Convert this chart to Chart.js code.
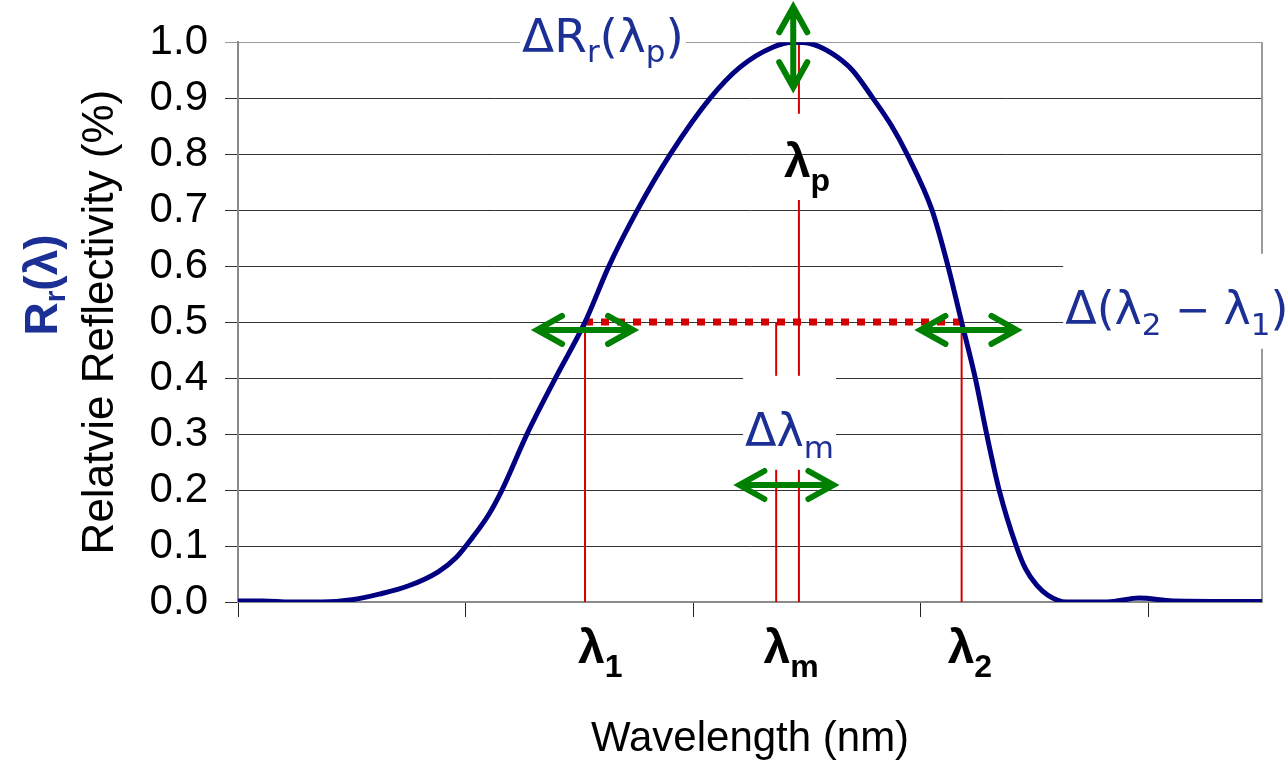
<!DOCTYPE html>
<html>
<head>
<meta charset="utf-8">
<script src="https://cdn.jsdelivr.net/npm/chart.js@4.4.0/dist/chart.umd.min.js"></script>
<style>
  html, body { margin: 0; padding: 0; background: #ffffff; }
  canvas { display: block; }
</style>
</head>
<body>
<canvas id="chart" width="1288" height="765"></canvas>
<script>
// Reflection spectrum: position along the wavelength axis and relative reflectivity
const wavelength = [
  0, 1.1, 2.3, 3.7, 5.0, 6.2, 7.5, 8.8, 9.6, 10.3, 11.0, 11.6, 12.7, 13.95,
  15.25, 16.3, 17.55, 19.0, 20.75, 22.05, 23.5, 24.4, 25.1, 26.1, 27.0, 27.9,
  28.7, 29.4, 30.5, 31.2, 31.8, 32.4, 32.9, 33.45, 34.2, 34.6, 35.1, 35.6,
  36.4, 38.2, 39.6, 41.1, 45.0
];
const reflectivity = [
  0.002, 0.002, 0.000, 0.000, 0.004, 0.014, 0.029, 0.054, 0.080, 0.115, 0.155, 0.200, 0.300, 0.400,
  0.500, 0.600, 0.700, 0.800, 0.900, 0.955, 0.991, 1.000, 0.998, 0.980, 0.950, 0.900,
  0.852, 0.800, 0.700, 0.600, 0.500, 0.400, 0.300, 0.200, 0.100, 0.060, 0.030, 0.012,
  0.000, 0.000, 0.007, 0.002, 0.001
];
const xTickValues = [0, 10, 20, 30, 40];

// Characteristic wavelengths marked on the spectrum
const lambda1 = 15.25;      // half-maximum, short side
const lambda2 = 31.8;       // half-maximum, long side
const lambdaM = 23.65;      // centre of the half-maximum band
const lambdaP = 24.65;      // peak wavelength
const peakX = 24.4;
const halfMax = 0.5;
const peakValue = 1.0;
const lambdaPGap = [0.718, 0.872];   // break in the peak marker around its label

const SANS = '"Liberation Sans", Arial, Helvetica, sans-serif';
const WIDE = '"DejaVu Sans", Verdana, sans-serif';
const BLUE = '#1b2f95';
const RED = '#d40000';
const GREEN = '#008000';

function font(size, bold, family) {
  return (bold ? 'bold ' : '') + size + 'px ' + (family || SANS);
}
function run(t, size, opts = {}) {
  return { t, font: font(size, opts.bold, opts.family), dy: opts.dy || 0 };
}
function runsWidth(ctx, runs) {
  let w = 0;
  for (const r of runs) { ctx.font = r.font; w += ctx.measureText(r.t).width; }
  return w;
}
function drawRuns(ctx, x, y, runs, color) {
  ctx.fillStyle = color;
  ctx.textAlign = 'left';
  ctx.textBaseline = 'alphabetic';
  for (const r of runs) {
    ctx.font = r.font;
    ctx.fillText(r.t, x, y + r.dy);
    x += ctx.measureText(r.t).width;
  }
}
function drawArrow(ctx, cx, cy, half, vertical) {
  ctx.save();
  ctx.translate(cx, cy);
  if (vertical) ctx.rotate(Math.PI / 2);
  ctx.strokeStyle = GREEN;
  ctx.lineWidth = 6;
  ctx.lineCap = 'round';
  ctx.lineJoin = 'miter';
  ctx.beginPath();
  ctx.moveTo(-half + 3, 0); ctx.lineTo(half - 3, 0);
  ctx.moveTo(-half + 25, -14); ctx.lineTo(-half, 0); ctx.lineTo(-half + 25, 14);
  ctx.moveTo(half - 25, -14); ctx.lineTo(half, 0); ctx.lineTo(half - 25, 14);
  ctx.stroke();
  ctx.restore();
}
const pxToUnit = (px) => (px - 238) / 22.75;

// Blue annotation texts, each on a white box
const B = { family: WIDE };
const S = (dy) => ({ family: WIDE, dy });
const blueLabels = [
  { x: pxToUnit(522), y: 0.982, boxUp: 45, boxDown: 30,
    runs: [run('\u0394', 47, B), run('R', 47, B), run('r', 31, S(10)), run('(', 47, B),
           run('\u03bb', 47, B), run('p', 31, S(10)), run(')', 47, B)] },
  { x: pxToUnit(745), y: 0.279, boxUp: 70, boxDown: 24,
    runs: [run('\u0394', 46, B), run('\u03bb', 46, B), run('m', 31, S(12))] },
  { x: pxToUnit(1065), y: 0.497, boxUp: 70, boxDown: 25,
    runs: [run('\u0394', 46, B), run('(', 46, B), run('\u03bb', 46, B), run('2', 31, S(11)),
           run(' \u2212 ', 42, B), run('\u03bb', 46, B), run('1', 31, S(11)), run(')', 46, B)] }
];

// Wavelength symbols (bold black)
const symbolLabels = [
  { x: lambda1, dx: -7, base: 663, sub: '1' },
  { x: (lambdaM + lambdaP) / 2, dx: -24, base: 663, sub: 'm' },
  { x: lambda2, dx: -14, base: 663, sub: '2' },
  { x: lambdaP, dx: -15, base: 177, sub: 'p' }
];

const arrows = [
  { x: lambda1, y: 0.486, half: 48, vertical: false },
  { x: 32.1, y: 0.486, half: 48, vertical: false },
  { x: (lambdaM + lambdaP) / 2 - 0.05, y: 0.209, half: 47, vertical: false },
  { x: peakX, y: 0.991, half: 40, vertical: true }
];

const annotationPlugin = {
  id: 'annotations',
  beforeDatasetsDraw(chart) {
    const { ctx, chartArea } = chart;
    ctx.save();
    ctx.strokeStyle = '#9a9a9a';
    ctx.lineWidth = 2;
    ctx.beginPath();
    ctx.moveTo(chartArea.right, chartArea.top);
    ctx.lineTo(chartArea.right, chartArea.bottom);
    ctx.stroke();
    ctx.restore();
  },
  afterDatasetsDraw(chart) {
    const { ctx, scales: { x, y } } = chart;
    ctx.save();
    for (const lab of blueLabels) {
      const px = x.getPixelForValue(lab.x);
      const py = y.getPixelForValue(lab.y);
      const w = runsWidth(ctx, lab.runs);
      ctx.fillStyle = '#ffffff';
      ctx.fillRect(px - 2, py - lab.boxUp, w + 4, lab.boxUp + lab.boxDown);
      drawRuns(ctx, px, py, lab.runs, BLUE);
    }
    for (const a of arrows) {
      drawArrow(ctx, x.getPixelForValue(a.x), y.getPixelForValue(a.y), a.half, a.vertical);
    }
    ctx.restore();
  },
  afterDraw(chart) {
    const { ctx, scales: { x } } = chart;
    ctx.save();
    for (const s of symbolLabels) {
      const px = x.getPixelForValue(s.x) + s.dx;
      drawRuns(ctx, px, s.base, [run('\u03bb', 48, { bold: true }), run(s.sub, 32, { bold: true, dy: 14 })], '#000000');
    }
    // Symbol of the vertical quantity, beside the axis title
    const runs = [run('R', 46, { bold: true }), run('r', 30, { bold: true, dy: 8 }), run('(', 46, { bold: true }),
                  run('\u03bb', 46, { bold: true }), run(')', 46, { bold: true })];
    const w = runsWidth(ctx, runs);
    ctx.translate(41, 285);
    ctx.rotate(-Math.PI / 2);
    drawRuns(ctx, -w / 2, 16, runs, BLUE);
    ctx.restore();
  }
};

const pts = (xs, ys) => xs.map((v, i) => ({ x: v, y: ys[i] }));
const markerLine = (xv, y0, y1) => [{ x: xv, y: y0 }, { x: xv, y: y1 }];
const redLine = (data) => ({
  data, showLine: true, borderColor: RED, borderWidth: 2, pointRadius: 0, fill: false
});

new Chart(document.getElementById('chart'), {
  type: 'scatter',
  data: {
    datasets: [
      {
        data: pts(wavelength, reflectivity),
        showLine: true,
        borderColor: '#000080',
        borderWidth: 5,
        pointRadius: 0,
        cubicInterpolationMode: 'monotone',
        borderJoinStyle: 'round',
        borderCapStyle: 'round',
        fill: false
      },
      {
        data: [{ x: lambda1, y: halfMax }, { x: lambda2, y: halfMax }],
        showLine: true,
        borderColor: RED,
        borderWidth: 7,
        borderDash: [8, 8],
        borderCapStyle: 'butt',
        pointRadius: 0,
        fill: false
      },
      redLine(markerLine(lambda1, 0, halfMax)),
      redLine(markerLine(lambda2, 0, halfMax)),
      redLine(markerLine(lambdaM, 0, halfMax)),
      redLine(markerLine(lambdaP, 0, lambdaPGap[0])),
      redLine(markerLine(lambdaP, lambdaPGap[1], peakValue))
    ]
  },
  options: {
    responsive: false,
    animation: false,
    events: [],
    layout: { padding: { top: 42, right: 26, left: 0, bottom: 0 } },
    plugins: { legend: { display: false }, tooltip: { enabled: false } },
    scales: {
      x: {
        type: 'linear',
        min: 0,
        max: 45,
        afterBuildTicks: (scale) => { scale.ticks = xTickValues.map(v => ({ value: v })); },
        afterFit: (scale) => { scale.height = 163; },
        ticks: { display: false },
        grid: { drawOnChartArea: false, drawTicks: true, tickLength: 15, color: '#222222', lineWidth: 1 },
        border: { display: true, color: '#8a8a8a', width: 2 },
        title: {
          display: true,
          text: 'Wavelength (nm)',
          color: '#000000',
          font: { family: SANS, size: 42 },
          padding: { top: 0, bottom: 0 }
        }
      },
      y: {
        min: 0,
        max: 1,
        afterFit: (scale) => { scale.width = 238; },
        ticks: {
          stepSize: 0.1,
          color: '#000000',
          padding: 17,
          font: { family: SANS, size: 42 },
          callback: (v) => v.toFixed(1)
        },
        grid: {
          tickLength: 13,
          lineWidth: 1,
          color: (ctx) => (ctx.tick && Math.abs(ctx.tick.value - 1) < 1e-9 ? '#9a9a9a' : '#333333')
        },
        border: { display: true, color: '#8a8a8a', width: 2 },
        title: {
          display: true,
          text: 'Relatvie Reflectivity (%)',
          color: '#000000',
          font: { family: SANS, size: 44 },
          padding: { top: 74, bottom: 0 }
        }
      }
    }
  },
  plugins: [annotationPlugin]
});
</script>
</body>
</html>
